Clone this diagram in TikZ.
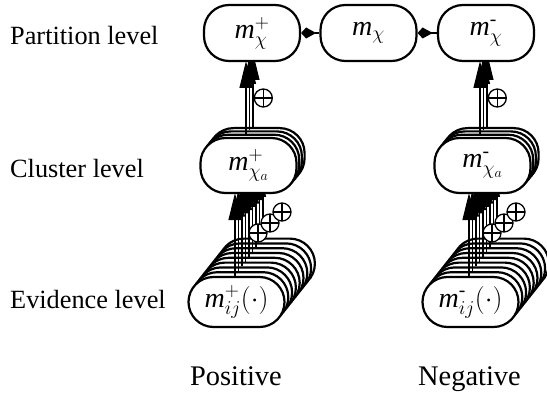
\RequirePackage{fix-cm}
\documentclass[tikz,border=0pt]{standalone}
\usepackage{fontspec}
\setmainfont{Liberation Serif}
\usepackage{amsmath}
\usetikzlibrary{arrows.meta}

\begin{document}
\begin{tikzpicture}[x=1pt, y=-1pt,
  pill/.style={draw, fill=white, line width=2.2pt, rounded corners=25pt,
    minimum width=96pt, inner sep=0pt, font=\fontsize{28}{32}\selectfont},
  flow/.style={line width=1.1pt, -{Triangle[length=27pt, width=13pt]}},
  link/.style={line width=1.2pt, -{Kite[length=15pt, width=11pt, inset=10pt]}},
  plus/.style={circle, draw, fill=white, line width=1.3pt, minimum size=18pt, inner sep=0pt,
    path picture={\draw[line width=1.3pt]
      (path picture bounding box.north) -- (path picture bounding box.south)
      (path picture bounding box.west) -- (path picture bounding box.east);}},
  lbl/.style={anchor=base west, inner sep=0pt, font=\fontsize{26.3}{30}\selectfont}]
  \useasboundingbox (0,0) rectangle (547,396);

  % Levels
  \node[lbl] (tpart) at (10,45) {Partition level};
  \node[lbl] (tclus) at (10,177) {Cluster level};
  \node[lbl] (tevid) at (10,308) {Evidence level};

  \foreach \side/\dx/\sgn in {pos/0/{+}, neg/234/{\text{-}}} {
    \begin{scope}[xshift=\dx pt]
      % Evidence stack
      \foreach \i in {8,7,...,1} {
        \node[pill, minimum height=50pt] (ev\side\i) at ({236.5+3.8*\i},{302-4.8*\i}) {};
        \coordinate (et\side\i) at ({235+3.5*\i},{193-3.3*\i});
        \draw[flow] (ev\side\i.north -| et\side\i) -- (et\side\i);
      }
      \node[pill, minimum height=50pt] (ev\side0) at (236.5,302) {$\textit{m}^{\sgn}_{ij}(\cdot)$};
      \coordinate (et\side0) at (235,193);
      \draw[flow] (ev\side0.north -| et\side0) -- (et\side0);

      % Cluster stack
      \foreach \k in {3,2,1} {
        \node[pill, minimum height=55pt] (cl\side\k) at ({248.5+2.7*\k},{165.5-3.3*\k}) {};
        \coordinate (ct\side\k) at ({246+3.5*(\k-1)},{61-4*(\k-1)});
        \draw[flow] (cl\side\k.north -| ct\side\k) -- (ct\side\k);
      }
      \node[pill, minimum height=55pt] (cl\side0) at (248.5,165.5) {$\textit{m}^{\sgn}_{\chi_a}$};

      % Sums
      \node[plus] (sb\side1) at (258,233) {};
      \node[plus] (sb\side2) at (270,223) {};
      \node[plus] (sb\side3) at (282,212) {};
      \node[plus] (sa\side) at (263.3,98) {};

      % Partition
      \node[pill, minimum height=56pt] (part\side) at (252,33) {$\textit{m}^{\sgn}_{\chi}$};
    \end{scope}
  }

  \node[pill, minimum height=56pt] (partmid) at (368.5,33) {$\textit{m}_{\chi}$};
  \draw[link] (partmid) -- (partpos);
  \draw[link] (partneg) -- (partmid);

  \node[lbl, font=\fontsize{28.4}{32}\selectfont] (tpos) at (190,385) {Positive};
  \node[lbl, font=\fontsize{28.4}{32}\selectfont] (tneg) at (418,385) {Negative};
\end{tikzpicture}
\end{document}
